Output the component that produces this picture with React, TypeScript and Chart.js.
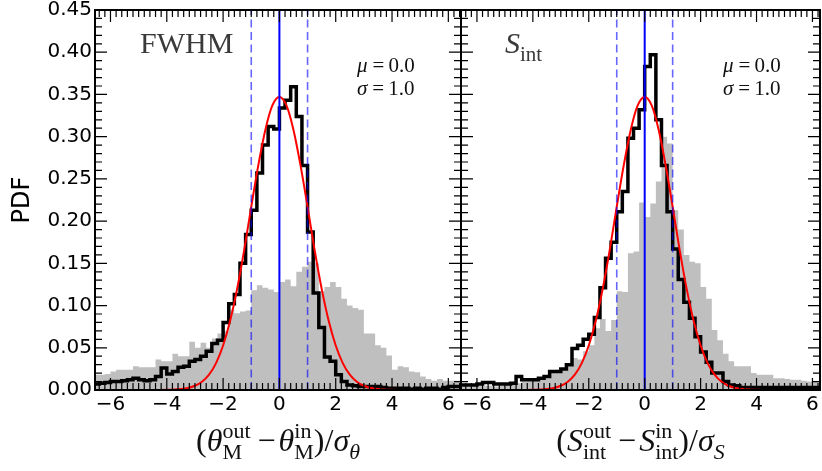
import React, { useEffect, useRef } from "react";
import { Chart, registerables } from "chart.js";

Chart.register(...registerables);

// ---------------- data ----------------
// histogram bins: left edges start at BIN_START, width BIN_WIDTH
const BIN_START = -6.6;
const BIN_WIDTH = 0.2;

const FWHM_GRAY = [
  0.018, 0.018, 0.019, 0.022, 0.024, 0.024, 0.024, 0.028, 0.027, 0.027,
  0.027, 0.036, 0.034, 0.034, 0.043, 0.040, 0.040, 0.057, 0.050, 0.056,
  0.050, 0.061, 0.067, 0.070, 0.095, 0.091, 0.093, 0.094, 0.118, 0.124,
  0.121, 0.119, 0.116, 0.128, 0.131, 0.123, 0.140, 0.146, 0.152, 0.150,
  0.117, 0.122, 0.128, 0.122, 0.108, 0.100, 0.097, 0.095, 0.067, 0.067,
  0.053, 0.050, 0.041, 0.024, 0.028, 0.027, 0.022, 0.021, 0.016, 0.013,
  0.011, 0.013, 0.011, 0.011, 0.011, 0.011,
];

const FWHM_BLACK = [
  0.007, 0.008, 0.009, 0.010, 0.010, 0.011, 0.012, 0.014, 0.012, 0.011,
  0.012, 0.016, 0.026, 0.019, 0.022, 0.027, 0.028, 0.034, 0.036, 0.040,
  0.046, 0.055, 0.059, 0.080, 0.102, 0.113, 0.150, 0.184, 0.213, 0.257,
  0.290, 0.312, 0.309, 0.334, 0.343, 0.359, 0.324, 0.266, 0.187, 0.115,
  0.074, 0.039, 0.034, 0.018, 0.010, 0.006, 0.005, 0.004, 0.004, 0.004,
  0.004, 0.003, 0.002, 0.002, 0.002, 0.002, 0.001, 0.002, 0.001, 0.002,
  0.002, 0.001, 0.003, 0.004, 0.004, 0.004,
];

const SINT_GRAY = [
  0.004, 0.004, 0.005, 0.005, 0.005, 0.005, 0.004, 0.005, 0.006, 0.006,
  0.008, 0.010, 0.010, 0.012, 0.012, 0.014, 0.020, 0.024, 0.024, 0.028,
  0.038, 0.036, 0.046, 0.053, 0.073, 0.084, 0.070, 0.083, 0.117, 0.116,
  0.162, 0.164, 0.222, 0.205, 0.221, 0.247, 0.300, 0.292, 0.213, 0.190,
  0.160, 0.152, 0.150, 0.122, 0.108, 0.071, 0.059, 0.043, 0.034, 0.028,
  0.028, 0.028, 0.020, 0.018, 0.018, 0.018, 0.014, 0.014, 0.013, 0.012,
  0.012, 0.011, 0.010, 0.010, 0.010, 0.010,
];

const SINT_BLACK = [
  0.006, 0.006, 0.006, 0.007, 0.009, 0.009, 0.007, 0.007, 0.007, 0.008,
  0.016, 0.012, 0.012, 0.012, 0.014, 0.016, 0.022, 0.022, 0.025, 0.030,
  0.049, 0.053, 0.060, 0.066, 0.086, 0.121, 0.156, 0.175, 0.211, 0.235,
  0.298, 0.310, 0.332, 0.383, 0.397, 0.320, 0.266, 0.211, 0.167, 0.131,
  0.104, 0.085, 0.063, 0.045, 0.033, 0.020, 0.020, 0.010, 0.006, 0.005,
  0.003, 0.003, 0.003, 0.003, 0.003, 0.003, 0.003, 0.003, 0.003, 0.003,
  0.003, 0.003, 0.003, 0.003, 0.003, 0.003,
];

// red fit curve
const FIT_X = [
  -6.6, -5.0, -4.5, -4.0, -3.75, -3.5, -3.25, -3.0, -2.75, -2.5, -2.25, -2.0,
  -1.75, -1.5, -1.25, -1.0, -0.75, -0.5, -0.25, 0, 0.25, 0.5, 0.75, 1.0, 1.25,
  1.5, 1.75, 2.0, 2.25, 2.5, 2.75, 3.0, 3.25, 3.5, 3.75, 4.0, 4.5, 5.0, 6.6,
];
const FIT_Y = [
  0, 0, 0, 0.0002, 0.0005, 0.0011, 0.0024, 0.005, 0.0098, 0.0182, 0.0319,
  0.0527, 0.0819, 0.12, 0.166, 0.217, 0.266, 0.308, 0.337, 0.347, 0.337, 0.308,
  0.266, 0.217, 0.166, 0.12, 0.0819, 0.0527, 0.0319, 0.0182, 0.0098, 0.005,
  0.0024, 0.0011, 0.0005, 0.0002, 0, 0, 0,
];

const MU = 0.0;
const SIGMA = 1.0;
const X_TICKS = [-6, -4, -2, 0, 2, 4, 6];
const Y_TICKS = [0, 0.05, 0.1, 0.15, 0.2, 0.25, 0.3, 0.35, 0.4, 0.45];
const Y_MAX = 0.45;

// ---------------- text helpers ----------------
const SERIF = '"Liberation Serif", "DejaVu Serif", serif';
const SANS = '"DejaVu Sans", sans-serif';

type MP = {
  text?: string;
  it?: boolean;
  sup?: string;
  sub?: string;
  supIt?: boolean;
  subIt?: boolean;
  space?: number;
};

function fontOf(size: number, it?: boolean) {
  return `${it ? "italic " : ""}${size}px ${SERIF}`;
}

function mathWidth(ctx: CanvasRenderingContext2D, pieces: MP[], size: number, ss: number) {
  let w = 0;
  for (const p of pieces) {
    if (p.space) w += p.space;
    else if (p.text !== undefined) {
      ctx.font = fontOf(size, p.it);
      w += ctx.measureText(p.text).width;
    } else {
      let a = 0;
      let b = 0;
      if (p.sup) {
        ctx.font = fontOf(ss, p.supIt);
        a = ctx.measureText(p.sup).width;
      }
      if (p.sub) {
        ctx.font = fontOf(ss, p.subIt);
        b = ctx.measureText(p.sub).width;
      }
      w += Math.max(a, b);
    }
  }
  return w;
}

function drawMath(
  ctx: CanvasRenderingContext2D,
  pieces: MP[],
  x: number,
  y: number,
  size: number,
  ss: number,
  align: "left" | "center",
  color: string
) {
  ctx.save();
  ctx.fillStyle = color;
  ctx.textBaseline = "alphabetic";
  ctx.textAlign = "left";
  let cx = align === "center" ? x - mathWidth(ctx, pieces, size, ss) / 2 : x;
  for (const p of pieces) {
    if (p.space) {
      cx += p.space;
      continue;
    }
    if (p.text !== undefined) {
      ctx.font = fontOf(size, p.it);
      ctx.fillText(p.text, cx, y);
      cx += ctx.measureText(p.text).width;
      continue;
    }
    let a = 0;
    let b = 0;
    if (p.sup) {
      ctx.font = fontOf(ss, p.supIt);
      ctx.fillText(p.sup, cx, y - size * 0.42);
      a = ctx.measureText(p.sup).width;
    }
    if (p.sub) {
      ctx.font = fontOf(ss, p.subIt);
      ctx.fillText(p.sub, cx, y + size * 0.26);
      b = ctx.measureText(p.sub).width;
    }
    cx += Math.max(a, b);
  }
  ctx.restore();
}

const MU_TEXT: MP[] = [{ text: "μ", it: true }, { space: 5 }, { text: "=" }, { space: 4 }, { text: MU.toFixed(1) }];
const SIGMA_TEXT: MP[] = [{ text: "σ", it: true }, { space: 5 }, { text: "=" }, { space: 4 }, { text: SIGMA.toFixed(1) }];

interface Panel {
  gray: number[];
  black: number[];
  xMin: number;
  xMax: number;
  showY: boolean;
  padRight: number;
  label: MP[];
  labelDx: number;
  title: MP[];
}

const LEFT_PANEL: Panel = {
  gray: FWHM_GRAY,
  black: FWHM_BLACK,
  xMin: -6.55,
  xMax: 6.45,
  showY: true,
  padRight: 9,
  label: [{ text: "FWHM" }],
  labelDx: 45,
  title: [
    { text: "(" },
    { text: "θ", it: true },
    { sup: "out", sub: "M" },
    { space: 7 },
    { text: "−" },
    { space: 3 },
    { text: "θ", it: true },
    { sup: "in", sub: "M" },
    { text: ")" },
    { text: "/" },
    { text: "σ", it: true },
    { sub: "θ", subIt: true },
  ],
};

const RIGHT_PANEL: Panel = {
  gray: SINT_GRAY,
  black: SINT_BLACK,
  xMin: -6.57,
  xMax: 6.27,
  showY: false,
  padRight: 2,
  label: [{ text: "S", it: true }, { sub: "int" }],
  labelDx: 44,
  title: [
    { text: "(" },
    { text: "S", it: true },
    { sup: "out", sub: "int" },
    { space: 7 },
    { text: "−" },
    { space: 3 },
    { text: "S", it: true },
    { sup: "in", sub: "int" },
    { text: ")" },
    { text: "/" },
    { text: "σ", it: true },
    { sub: "S", subIt: true },
  ],
};

function histPoints(vals: number[]) {
  const pts = vals.map((v, i) => ({ x: BIN_START + i * BIN_WIDTH, y: v }));
  pts.push({ x: BIN_START + vals.length * BIN_WIDTH, y: vals[vals.length - 1] });
  return pts;
}

function framePlugin(p: Panel) {
  return {
    id: "frameAndText",
    afterDraw(chart: any) {
      const { ctx, chartArea: a, scales } = chart;
      const xs = scales.x;
      const ys = scales.y;
      ctx.save();
      ctx.strokeStyle = "#000";
      ctx.lineWidth = 1.2;
      // x ticks (minor 0.2, major 2), bottom and top, pointing inward
      const k0 = Math.ceil(xs.min / 0.2 - 1e-9);
      const k1 = Math.floor(xs.max / 0.2 + 1e-9);
      ctx.beginPath();
      for (let k = k0; k <= k1; k++) {
        const major = k % 10 === 0;
        const len = major ? 12 : 7;
        const px = xs.getPixelForValue(k * 0.2);
        ctx.moveTo(px, a.bottom);
        ctx.lineTo(px, a.bottom - len);
        ctx.moveTo(px, a.top);
        ctx.lineTo(px, a.top + len);
      }
      // y ticks (minor 0.01, major 0.05), left and right
      for (let k = 0; k <= 45; k++) {
        const major = k % 5 === 0;
        const len = major ? 12 : 7;
        const py = ys.getPixelForValue(k * 0.01);
        ctx.moveTo(a.left, py);
        ctx.lineTo(a.left + len, py);
        ctx.moveTo(a.right, py);
        ctx.lineTo(a.right - len, py);
      }
      ctx.stroke();
      ctx.lineWidth = 2;
      ctx.strokeRect(a.left, a.top, a.right - a.left, a.bottom - a.top);
      ctx.restore();

      // panel label
      drawMath(ctx, p.label, a.left + p.labelDx, a.top + 43, 30, 21, "left", "#3a3a3a");
      // mu / sigma
      drawMath(ctx, MU_TEXT, a.left + 262, a.top + 62, 21, 15, "left", "#111");
      drawMath(ctx, SIGMA_TEXT, a.left + 262, a.top + 85, 21, 15, "left", "#111");
      // x-axis title
      drawMath(ctx, p.title, (a.left + a.right) / 2, 451, 32, 22, "center", "#111");
    },
  };
}

function buildConfig(p: Panel): any {
  return {
    type: "line",
    data: {
      datasets: [
        {
          label: "mean",
          data: [{ x: MU, y: 0 }, { x: MU, y: Y_MAX }],
          borderColor: "#0000ff",
          borderWidth: 2,
          pointRadius: 0,
          order: 0,
        },
        {
          label: "-1 sigma",
          data: [{ x: MU - SIGMA, y: 0 }, { x: MU - SIGMA, y: Y_MAX }],
          borderColor: "rgba(0,0,255,0.6)",
          borderWidth: 1.6,
          borderDash: [8, 4.5],
          pointRadius: 0,
          order: 0,
        },
        {
          label: "+1 sigma",
          data: [{ x: MU + SIGMA, y: 0 }, { x: MU + SIGMA, y: Y_MAX }],
          borderColor: "rgba(0,0,255,0.6)",
          borderWidth: 1.6,
          borderDash: [8, 4.5],
          pointRadius: 0,
          order: 0,
        },
        {
          label: "fit",
          data: FIT_X.map((x, i) => ({ x, y: FIT_Y[i] })),
          borderColor: "#ff0000",
          borderWidth: 2,
          pointRadius: 0,
          cubicInterpolationMode: "monotone",
          order: 1,
        },
        {
          label: "black",
          data: histPoints(p.black),
          stepped: true,
          borderColor: "#000000",
          borderWidth: 3.5,
          borderJoinStyle: "miter",
          pointRadius: 0,
          order: 2,
        },
        {
          label: "gray",
          data: histPoints(p.gray),
          stepped: true,
          borderColor: "rgba(0,0,0,0)",
          borderWidth: 1,
          backgroundColor: "#bfbfbf",
          fill: "origin",
          pointRadius: 0,
          order: 3,
        },
      ],
    },
    options: {
      responsive: false,
      animation: false,
      devicePixelRatio: 1,
      events: [],
      layout: { padding: { left: 0, right: p.padRight, top: 10, bottom: 0 } },
      plugins: { legend: { display: false }, tooltip: { enabled: false } },
      scales: {
        x: {
          type: "linear",
          min: p.xMin,
          max: p.xMax,
          afterBuildTicks: (s: any) => {
            s.ticks = X_TICKS.map((v) => ({ value: v }));
          },
          afterFit: (s: any) => {
            s.height = 81;
            s.paddingLeft = 0;
            s.paddingRight = 0;
          },
          ticks: {
            autoSkip: false,
            maxRotation: 0,
            padding: 3,
            color: "#000",
            font: { family: SANS, size: 20 },
            callback: (v: number) => (v < 0 ? "\u2212" + Math.abs(v) : String(v)),
          },
          grid: { display: false, drawTicks: false },
          border: { display: false },
        },
        y: {
          type: "linear",
          min: 0,
          max: Y_MAX,
          afterBuildTicks: (s: any) => {
            s.ticks = Y_TICKS.map((v) => ({ value: v }));
          },
          afterFit: (s: any) => {
            s.width = p.showY ? 95 : 0;
            s.paddingTop = 0;
            s.paddingBottom = 0;
          },
          ticks: {
            display: p.showY,
            autoSkip: false,
            padding: 3,
            color: "#000",
            font: { family: SANS, size: 20 },
            callback: (v: number) => v.toFixed(2),
          },
          title: {
            display: p.showY,
            text: "PDF",
            color: "#000",
            font: { family: SANS, size: 24 },
            padding: { top: 8, bottom: 0 },
          },
          grid: { display: false, drawTicks: false },
          border: { display: false },
        },
      },
    },
    plugins: [framePlugin(p)],
  };
}

export default function App() {
  const leftRef = useRef<HTMLCanvasElement>(null);
  const rightRef = useRef<HTMLCanvasElement>(null);
  useEffect(() => {
    const c1 = new Chart(leftRef.current as HTMLCanvasElement, buildConfig(LEFT_PANEL));
    const c2 = new Chart(rightRef.current as HTMLCanvasElement, buildConfig(RIGHT_PANEL));
    return () => {
      c1.destroy();
      c2.destroy();
    };
  }, []);
  return (
    <div style={{ position: "absolute", left: 0, top: 0, width: 822, height: 471, background: "#fff" }}>
      <canvas ref={leftRef} width={470} height={471} style={{ position: "absolute", left: 0, top: 0 }} />
      <canvas ref={rightRef} width={361} height={471} style={{ position: "absolute", left: 461, top: 0 }} />
    </div>
  );
}
